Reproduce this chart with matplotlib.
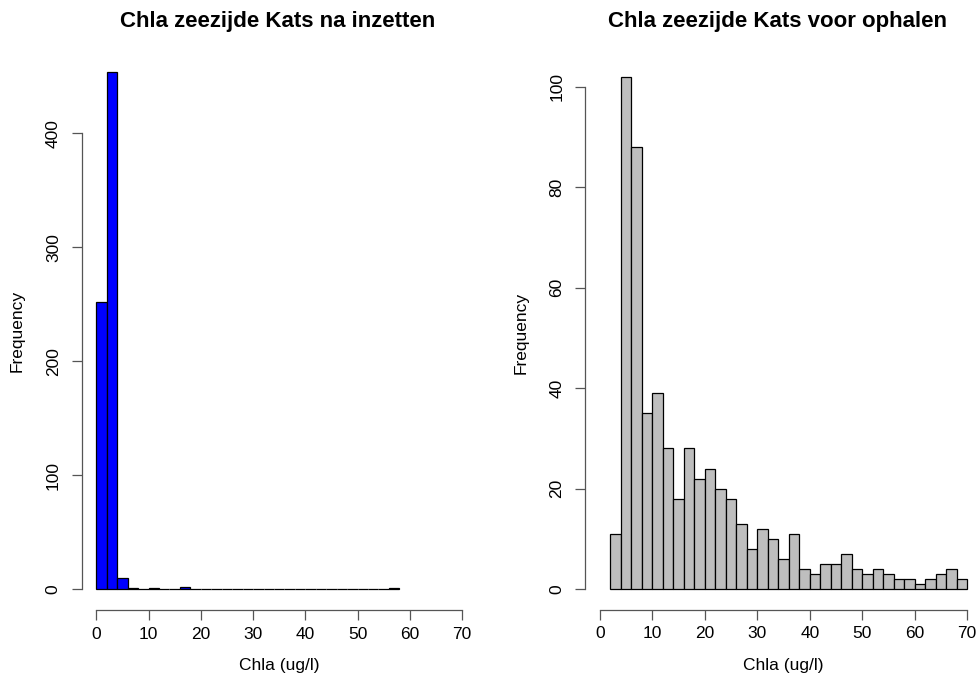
import numpy as np
import matplotlib.pyplot as plt

plt.rcParams['font.family'] = ['Liberation Sans', 'DejaVu Sans']

# bin counts, 2 ug/l wide bins
breaks_na = np.arange(0, 60, 2)          # 0..58
counts_na = [252, 454, 10, 1, 0, 1, 0, 0, 2, 0,
             0, 0, 0, 0, 0, 0, 0, 0, 0, 0,
             0, 0, 0, 0, 0, 0, 0, 0, 1]
breaks_voor = np.arange(2, 72, 2)        # 2..70
counts_voor = [11, 102, 88, 35, 39, 28, 18, 28, 22, 24,
               20, 18, 13, 8, 12, 10, 6, 11, 4, 3,
               5, 5, 7, 4, 3, 4, 3, 2, 2, 1,
               2, 3, 4, 2]

titles = ['Chla zeezijde Kats na inzetten', 'Chla zeezijde Kats voor ophalen']
xticks = [0, 10, 20, 30, 40, 50, 60, 70]

W, H = 980, 684
fig = plt.figure(figsize=(W / 100, H / 100), dpi=100)
ax1 = fig.add_axes([81.7 / W, (H - 610) / H, 395 / W, 559 / H])
ax2 = fig.add_axes([585.3 / W, (H - 609.5) / H, 396.5 / W, 553.1 / H])


def hist_panel(ax, breaks, counts, color, yticks):
    left = breaks[:-1]
    ax.bar(left, counts, width=2, align='edge', color=color,
           edgecolor='black', linewidth=0.9)
    top = max(counts)
    ax.set_xlim(-2.8, 72.8)
    ax.set_ylim(-0.04 * top, 1.04 * top)
    for s in ['top', 'right']:
        ax.spines[s].set_visible(False)
    ax.spines['left'].set_bounds(yticks[0], yticks[-1])
    ax.spines['bottom'].set_bounds(0, 70)
    for s in ['left', 'bottom']:
        ax.spines[s].set_linewidth(0.9)
        ax.spines[s].set_color('#555555')
    ax.set_xticks(xticks)
    ax.set_yticks(yticks)
    ax.tick_params(length=7, width=0.9, color='#555555', labelsize=12.5)
    ax.tick_params(axis='x', pad=5)
    ax.tick_params(axis='y', pad=8)
    for lab in ax.get_yticklabels():
        lab.set_rotation(90)
        lab.set_va('center')
    ax.set_xlabel('Chla (ug/l)', fontsize=12.5, labelpad=12)
    ax.set_ylabel('Frequency', fontsize=12.5, labelpad=15)


hist_panel(ax1, breaks_na, counts_na, '#0000FF', [0, 100, 200, 300, 400])
hist_panel(ax2, breaks_voor, counts_voor, '#BEBEBE', [0, 20, 40, 60, 80, 100])

# main titles
fig.text(278 / W, 1 - 21 / H, titles[0], ha='center', va='center',
         fontsize=16, fontweight='bold')
fig.text(777.5 / W, 1 - 21 / H, titles[1], ha='center', va='center',
         fontsize=16, fontweight='bold')

fig.savefig('out.png', dpi=100)
